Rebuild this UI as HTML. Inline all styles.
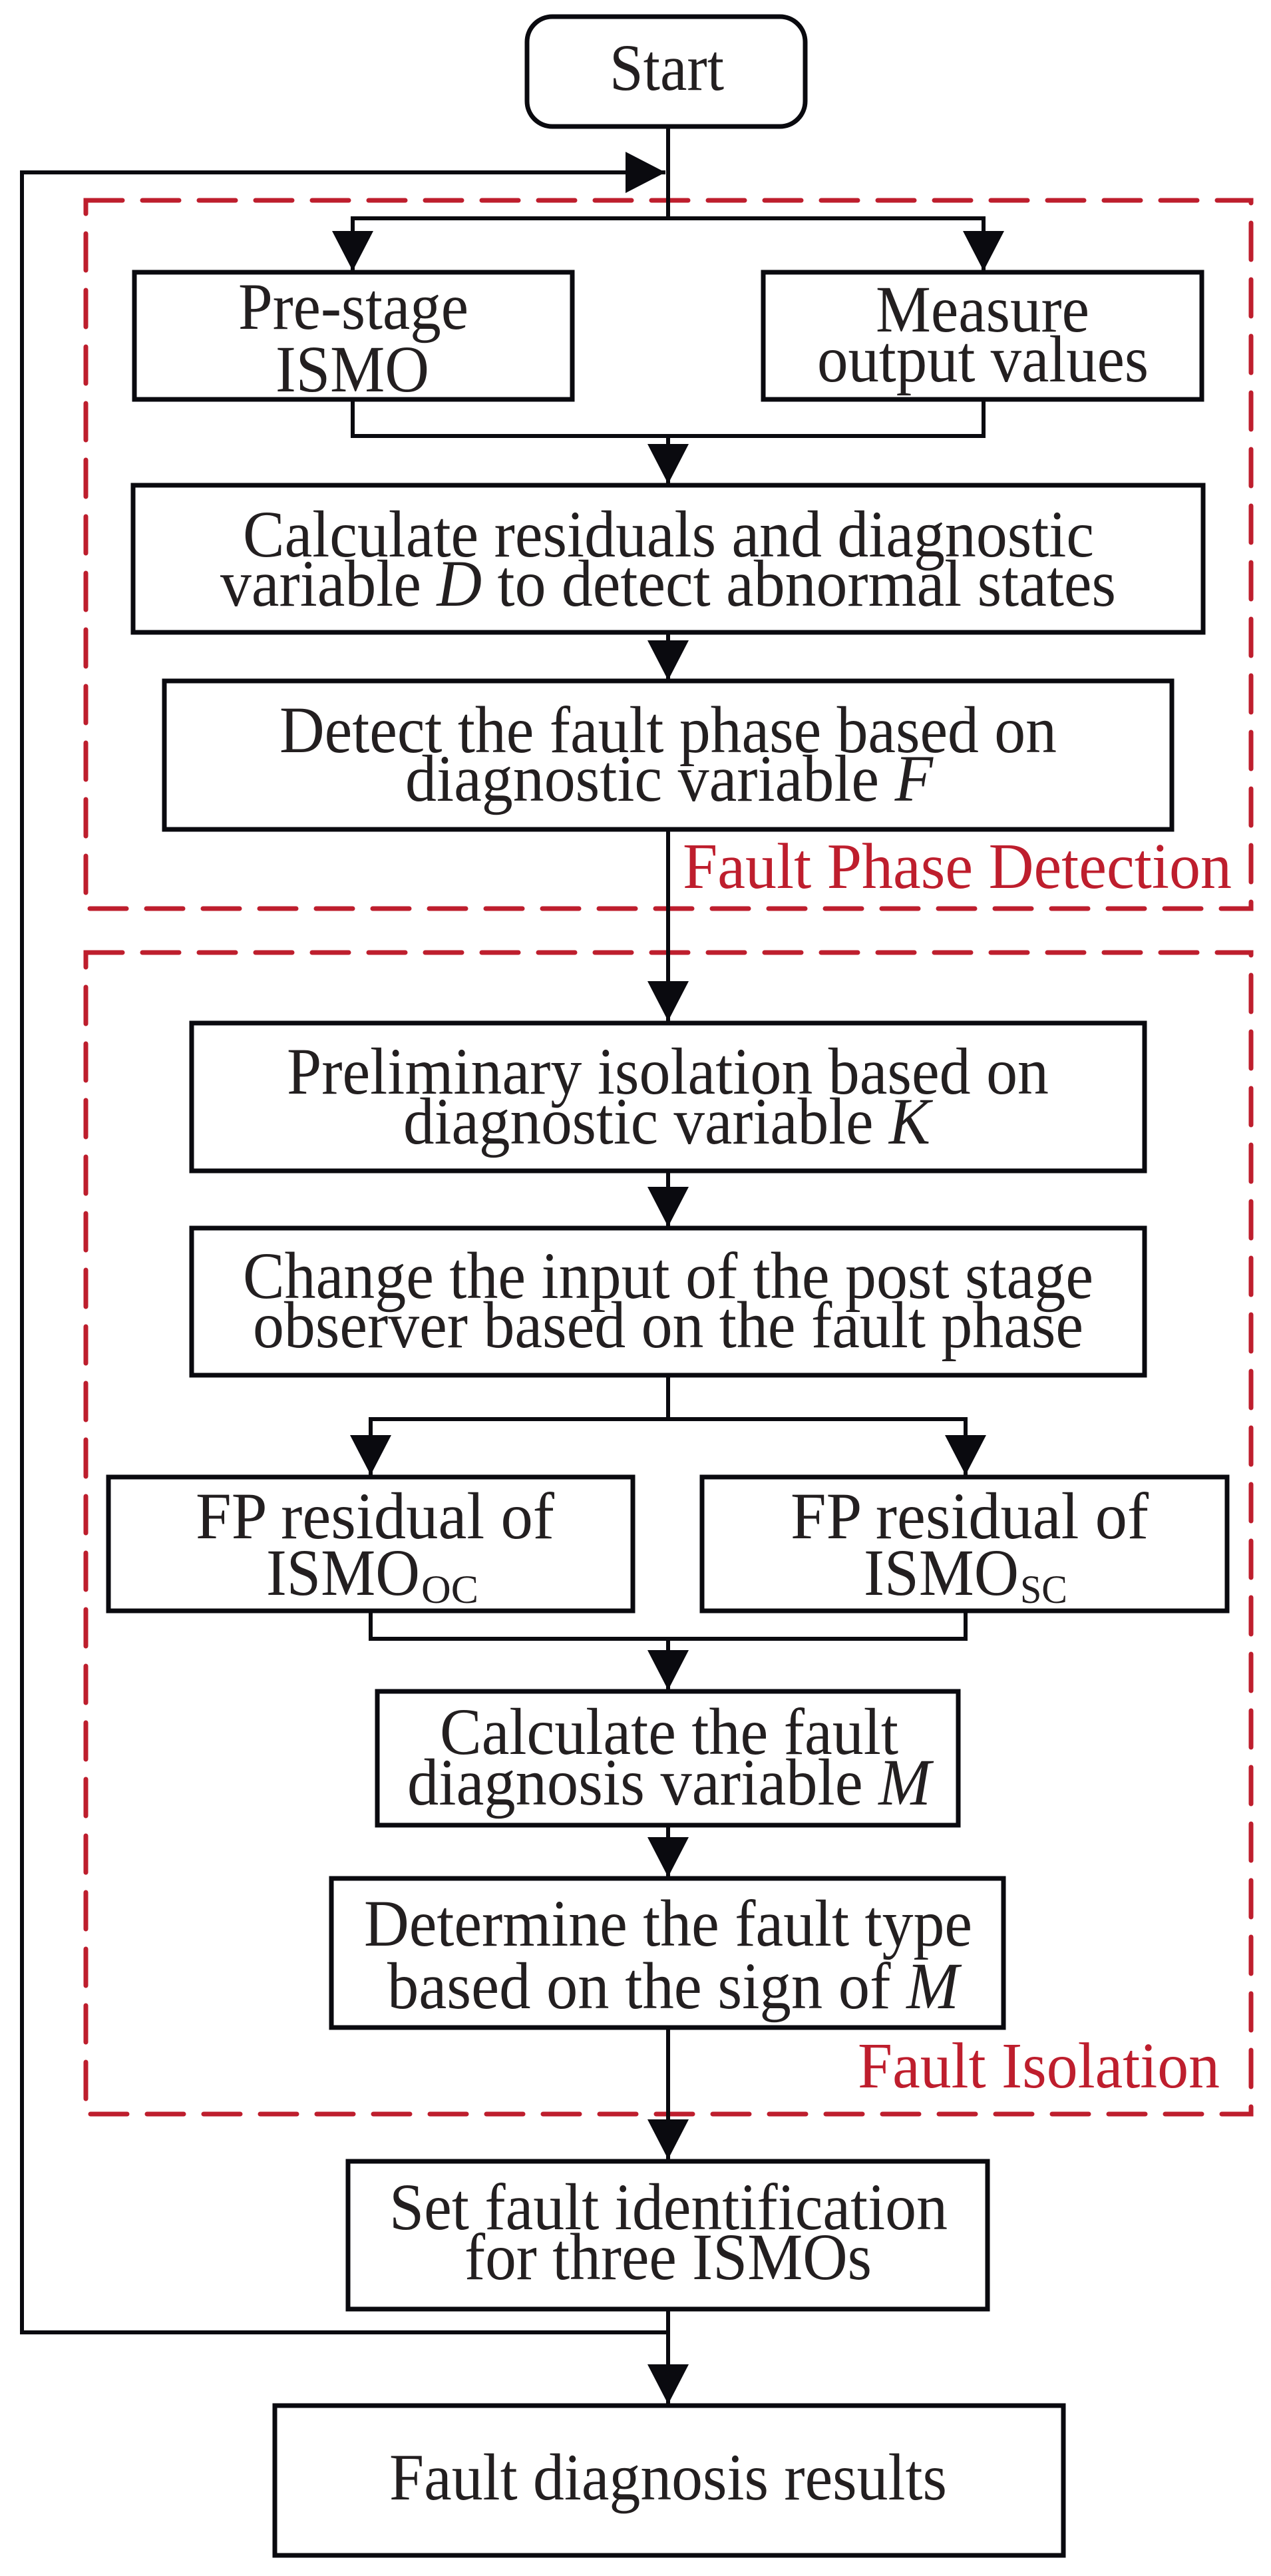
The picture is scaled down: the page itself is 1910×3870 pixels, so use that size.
<!DOCTYPE html>
<html><head><meta charset="utf-8"><style>html,body{margin:0;padding:0;background:#fff}svg{display:block}</style></head>
<body>
<svg width="1910" height="3870" viewBox="0 0 1910 3870" xmlns="http://www.w3.org/2000/svg">
<rect width="1910" height="3870" fill="#fff"/>
<defs>
<marker id="a" markerUnits="userSpaceOnUse" markerWidth="60" markerHeight="62" viewBox="0 0 60 62" refX="60" refY="31" orient="auto"><path d="M0,0 L60,31 L0,62 Z" fill="#0a0a0f"/></marker>
</defs>
<g fill="none" stroke="#be1e2d" stroke-width="7" stroke-dasharray="55 30" stroke-linecap="round">
<rect x="129" y="301" width="1751" height="1064"/>
<rect x="129" y="1431" width="1751" height="1745"/>
</g>
<g fill="none" stroke="#0a0a0f" stroke-width="6">
<line x1="1004" y1="188" x2="1004" y2="328"/>
<polyline points="33,3504 33,259 1000,259" marker-end="url(#a)"/>
<polyline points="1004,328 530,328 530,407" marker-end="url(#a)"/>
<polyline points="1004,328 1478,328 1478,407" marker-end="url(#a)"/>
<polyline points="530,600 530,655 1478,655 1478,600"/>
<line x1="1004" y1="655" x2="1004" y2="727" marker-end="url(#a)"/>
<line x1="1004" y1="950" x2="1004" y2="1022" marker-end="url(#a)"/>
<line x1="1004" y1="1246" x2="1004" y2="1534" marker-end="url(#a)"/>
<line x1="1004" y1="1759" x2="1004" y2="1843" marker-end="url(#a)"/>
<line x1="1004" y1="2066" x2="1004" y2="2132"/>
<polyline points="1004,2132 557,2132 557,2216" marker-end="url(#a)"/>
<polyline points="1004,2132 1451,2132 1451,2216" marker-end="url(#a)"/>
<polyline points="557,2420 557,2462 1451,2462 1451,2420"/>
<line x1="1004" y1="2462" x2="1004" y2="2539" marker-end="url(#a)"/>
<line x1="1004" y1="2742" x2="1004" y2="2820" marker-end="url(#a)"/>
<line x1="1004" y1="3046" x2="1004" y2="3244" marker-end="url(#a)"/>
<line x1="1004" y1="3469" x2="1004" y2="3612" marker-end="url(#a)"/>
<line x1="30" y1="3504" x2="1004" y2="3504"/>
</g>
<g fill="#fff" stroke="#0a0a0f" stroke-width="7">
<rect x="792" y="25" width="418" height="165" rx="38"/>
<rect x="202" y="409" width="658" height="191"/>
<rect x="1147" y="409" width="659" height="191"/>
<rect x="200" y="729" width="1608" height="221"/>
<rect x="247" y="1023" width="1514" height="223"/>
<rect x="288" y="1537" width="1432" height="222"/>
<rect x="288" y="1845" width="1432" height="221"/>
<rect x="163" y="2219" width="788" height="201"/>
<rect x="1055" y="2219" width="789" height="201"/>
<rect x="567" y="2541" width="873" height="201"/>
<rect x="498" y="2822" width="1010" height="224"/>
<rect x="523" y="3247" width="961" height="222"/>
<rect x="413" y="3614" width="1185" height="225"/>
</g>
<g font-family="Liberation Serif, serif" font-size="100" fill="#231f20">
<text x="916" y="135" textLength="172" lengthAdjust="spacingAndGlyphs">Start</text>
<text x="358" y="494" textLength="346" lengthAdjust="spacingAndGlyphs">Pre-stage</text>
<text x="414" y="588" textLength="231" lengthAdjust="spacingAndGlyphs">ISMO</text>
<text x="1316" y="498" textLength="321" lengthAdjust="spacingAndGlyphs">Measure</text>
<text x="1228" y="573" textLength="498" lengthAdjust="spacingAndGlyphs">output values</text>
<text x="365" y="836" textLength="1279" lengthAdjust="spacingAndGlyphs">Calculate residuals and diagnostic</text>
<text x="331" y="910" textLength="1346" lengthAdjust="spacingAndGlyphs">variable <tspan font-style="italic">D</tspan> to detect abnormal states</text>
<text x="420" y="1130" textLength="1168" lengthAdjust="spacingAndGlyphs">Detect the fault phase based on</text>
<text x="609" y="1203" textLength="793" lengthAdjust="spacingAndGlyphs">diagnostic variable <tspan font-style="italic">F</tspan></text>
<text x="431" y="1643" textLength="1145" lengthAdjust="spacingAndGlyphs">Preliminary isolation based on</text>
<text x="606" y="1718" textLength="792" lengthAdjust="spacingAndGlyphs">diagnostic variable <tspan font-style="italic">K</tspan></text>
<text x="365" y="1950" textLength="1278" lengthAdjust="spacingAndGlyphs">Change the input of the post stage</text>
<text x="380" y="2024" textLength="1248" lengthAdjust="spacingAndGlyphs">observer based on the fault phase</text>
<text x="294" y="2311" textLength="539" lengthAdjust="spacingAndGlyphs">FP residual of</text>
<text x="400" y="2396" textLength="231" lengthAdjust="spacingAndGlyphs">ISMO</text>
<text x="633" y="2408" font-size="60" textLength="86" lengthAdjust="spacingAndGlyphs">OC</text>
<text x="1188" y="2311" textLength="538" lengthAdjust="spacingAndGlyphs">FP residual of</text>
<text x="1298" y="2396" textLength="233" lengthAdjust="spacingAndGlyphs">ISMO</text>
<text x="1533" y="2408" font-size="60" textLength="71" lengthAdjust="spacingAndGlyphs">SC</text>
<text x="661" y="2635" textLength="689" lengthAdjust="spacingAndGlyphs">Calculate the fault</text>
<text x="612" y="2711" textLength="787" lengthAdjust="spacingAndGlyphs">diagnosis variable <tspan font-style="italic">M</tspan></text>
<text x="547" y="2923" textLength="914" lengthAdjust="spacingAndGlyphs">Determine the fault type</text>
<text x="582" y="3017" textLength="859" lengthAdjust="spacingAndGlyphs">based on the sign of <tspan font-style="italic">M</tspan></text>
<text x="585" y="3349" textLength="839" lengthAdjust="spacingAndGlyphs">Set fault identification</text>
<text x="698" y="3424" textLength="612" lengthAdjust="spacingAndGlyphs">for three ISMOs</text>
<text x="585" y="3755" textLength="838" lengthAdjust="spacingAndGlyphs">Fault diagnosis results</text>
</g>
<g font-family="Liberation Serif, serif" font-size="98" fill="#be1e2d">
<text x="1026" y="1334" textLength="825" lengthAdjust="spacingAndGlyphs">Fault Phase Detection</text>
<text x="1289" y="3136" textLength="544" lengthAdjust="spacingAndGlyphs">Fault Isolation</text>
</g>
</svg>
</body></html>
